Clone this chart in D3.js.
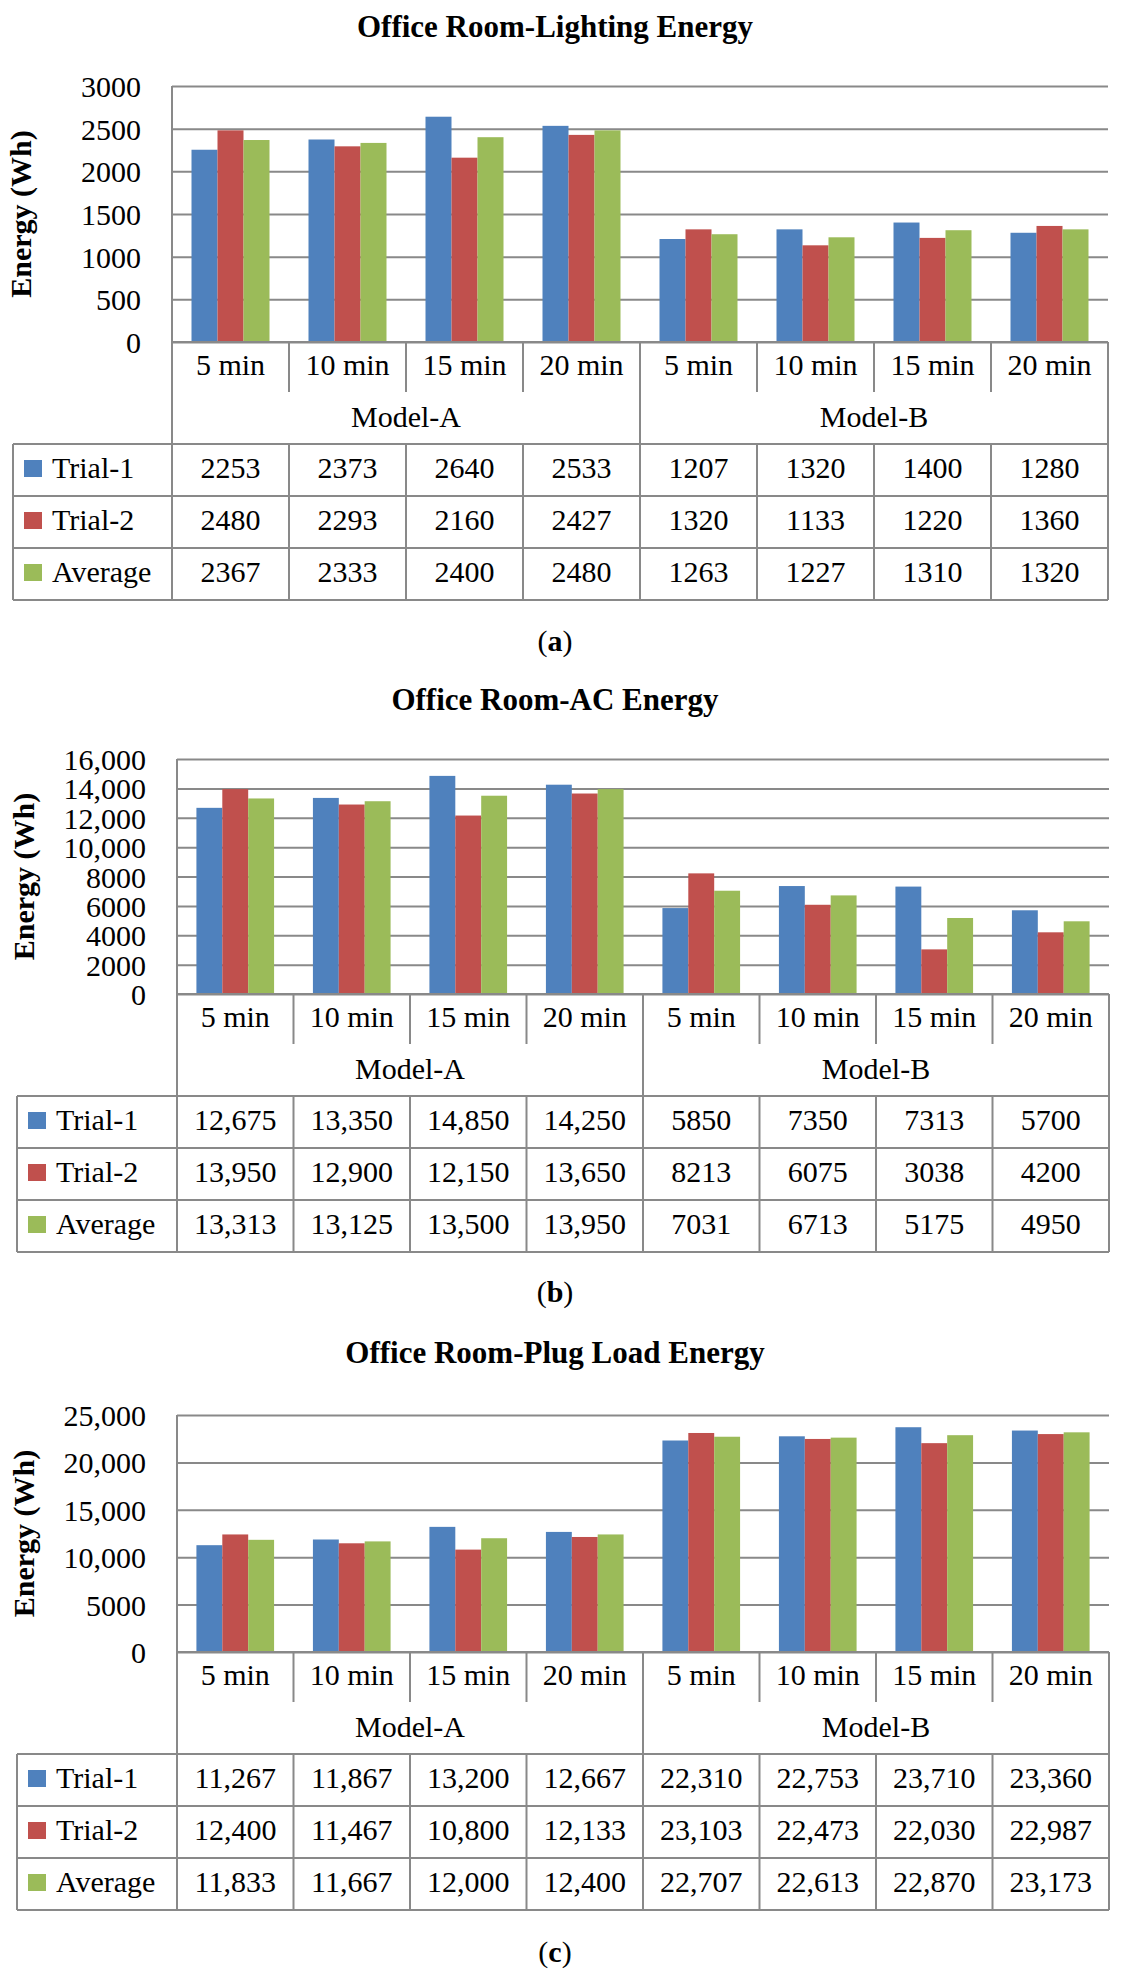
<!DOCTYPE html>
<html lang="en">
<head>
  <meta charset="UTF-8">
  <title>Office Room Energy</title>
  <style>
    body { margin: 0; background: #fff; }
    svg text { font-family: "Liberation Serif", serif; fill: #000; }
  </style>
</head>
<body>
  <svg id="chart" width="1125" height="1982"></svg>

  <script src="https://d3js.org/d3.v7.min.js"></script>
  <script>
    // categories
    const periods = ["5 min", "10 min", "15 min", "20 min"];
    const models = ["Model-A", "Model-B"];
    const seriesNames = ["Trial-1", "Trial-2", "Average"];
    const seriesColors = ["#4F81BD", "#C0504D", "#9BBB59"];

    // (a) lighting
    const lightingTrial1 = [2253, 2373, 2640, 2533, 1207, 1320, 1400, 1280];
    const lightingTrial2 = [2480, 2293, 2160, 2427, 1320, 1133, 1220, 1360];
    const lightingAverage = [2367, 2333, 2400, 2480, 1263, 1227, 1310, 1320];
    const lightingTicks = [0, 500, 1000, 1500, 2000, 2500, 3000];

    // (b) AC
    const acTrial1 = [12675, 13350, 14850, 14250, 5850, 7350, 7313, 5700];
    const acTrial2 = [13950, 12900, 12150, 13650, 8213, 6075, 3038, 4200];
    const acAverage = [13313, 13125, 13500, 13950, 7031, 6713, 5175, 4950];
    const acTicks = [0, 2000, 4000, 6000, 8000, 10000, 12000, 14000, 16000];

    // (c) plug load
    const plugTrial1 = [11267, 11867, 13200, 12667, 22310, 22753, 23710, 23360];
    const plugTrial2 = [12400, 11467, 10800, 12133, 23103, 22473, 22030, 22987];
    const plugAverage = [11833, 11667, 12000, 12400, 22707, 22613, 22870, 23173];
    const plugTicks = [0, 5000, 10000, 15000, 20000, 25000];

    // 4 digit numbers have no separator, 5+ digits get commas
    const fmt = v => v >= 10000 ? d3.format(",")(v) : String(v);

    const LINE = "#898989";
    const FONT = "'Liberation Serif', serif";
    const FS = 30;

    const charts = [
      { title: "Office Room-Lighting Energy", tag: "a", series: [lightingTrial1, lightingTrial2, lightingAverage], ticks: lightingTicks,
        titleY: 37, top: 86, bottom: 342, left: 172, right: 1108, labelX: 20, tableLeft: 13, captionY: 651 },
      { title: "Office Room-AC Energy", tag: "b", series: [acTrial1, acTrial2, acAverage], ticks: acTicks,
        titleY: 710, top: 759, bottom: 994, left: 177, right: 1109, labelX: 23, tableLeft: 17, captionY: 1302 },
      { title: "Office Room-Plug Load Energy", tag: "c", series: [plugTrial1, plugTrial2, plugAverage], ticks: plugTicks,
        titleY: 1363, top: 1415, bottom: 1652, left: 177, right: 1109, labelX: 23, tableLeft: 17, captionY: 1962 }
    ];

    const svg = d3.select("#chart");
    svg.append("rect").attr("width", 1125).attr("height", 1982).attr("fill", "#fff");

    function drawChart(c) {
      const g = svg.append("g").attr("font-family", FONT);
      const cats = d3.range(models.length * periods.length);

      const x = d3.scaleBand().domain(cats).range([c.left, c.right]).paddingInner(0).paddingOuter(0);
      const xs = d3.scaleBand().domain(seriesNames).range([0, x.bandwidth()]).paddingInner(0).paddingOuter(0.75);
      const y = d3.scaleLinear().domain([0, d3.max(c.ticks)]).range([c.bottom, c.top]);

      // title
      g.append("text")
        .attr("x", 555).attr("y", c.titleY)
        .attr("text-anchor", "middle")
        .attr("font-size", 31).attr("font-weight", "bold")
        .text(c.title);

      // y axis with gridlines
      const axis = g.append("g")
        .attr("transform", `translate(${c.left},0)`)
        .call(d3.axisLeft(y).tickValues(c.ticks).tickFormat(fmt)
          .tickSizeInner(-(c.right - c.left)).tickSizeOuter(0).tickPadding(31));
      axis.attr("font-family", FONT).attr("font-size", FS);
      axis.select(".domain").remove();
      axis.selectAll(".tick line").attr("stroke", LINE).attr("stroke-width", 2);
      axis.selectAll(".tick text").attr("font-size", FS).attr("font-family", FONT).attr("dy", "0.35em");

      // y label
      g.append("text")
        .attr("transform", `translate(${c.labelX},${(c.top + c.bottom) / 2}) rotate(-90)`)
        .attr("text-anchor", "middle").attr("dominant-baseline", "central")
        .attr("font-size", FS).attr("font-weight", "bold")
        .text("Energy (Wh)");

      // bars
      c.series.forEach((vals, si) => {
        g.append("g").selectAll("rect").data(vals).join("rect")
          .attr("x", (d, i) => x(i) + xs(seriesNames[si]))
          .attr("width", xs.bandwidth())
          .attr("y", d => y(d))
          .attr("height", d => y(0) - y(d))
          .attr("fill", seriesColors[si]);
      });

      // category axis / data table
      const sepBottom = c.bottom + 50;
      const modelY = c.bottom + 85;
      const tableTop = c.bottom + 102;
      const rowH = 52;
      const tableBottom = tableTop + rowH * seriesNames.length;
      const lines = g.append("g").attr("stroke", LINE).attr("stroke-width", 2).attr("fill", "none");

      const hLines = [
        [c.left, c.right, c.bottom],
        ...d3.range(seriesNames.length + 1).map(r => [c.tableLeft, c.right, tableTop + r * rowH])
      ];
      lines.selectAll(".h").data(hLines).join("line")
        .attr("x1", d => d[0]).attr("x2", d => d[1])
        .attr("y1", d => d[2]).attr("y2", d => d[2]);

      const vLines = [
        [c.left, c.top, tableBottom],
        [c.right, c.bottom, tableBottom],
        [c.tableLeft, tableTop, tableBottom],
        ...cats.slice(1).map(i => i % periods.length === 0
          ? [x(i), c.bottom, tableBottom]
          : [x(i), c.bottom, sepBottom]),
        ...cats.slice(1).filter(i => i % periods.length !== 0).map(i => [x(i), tableTop, tableBottom])
      ];
      lines.selectAll(".v").data(vLines).join("line")
        .attr("x1", d => d[0]).attr("x2", d => d[0])
        .attr("y1", d => d[1]).attr("y2", d => d[2]);

      // period labels
      g.append("g").selectAll("text").data(cats).join("text")
        .attr("x", i => x(i) + x.bandwidth() / 2)
        .attr("y", c.bottom + 33)
        .attr("text-anchor", "middle").attr("font-size", FS)
        .text(i => periods[i % periods.length]);

      // model labels
      g.append("g").selectAll("text").data(models).join("text")
        .attr("x", (m, k) => x(k * periods.length) + x.bandwidth() * periods.length / 2)
        .attr("y", modelY)
        .attr("text-anchor", "middle").attr("font-size", FS)
        .text(m => m);

      // table rows
      seriesNames.forEach((name, si) => {
        const rowTop = tableTop + si * rowH;
        g.append("rect")
          .attr("x", c.tableLeft + 11).attr("y", rowTop + 16)
          .attr("width", 18).attr("height", 17)
          .attr("fill", seriesColors[si]);
        g.append("text")
          .attr("x", c.tableLeft + 39).attr("y", rowTop + 34)
          .attr("font-size", FS)
          .text(name);
        g.append("g").selectAll("text").data(c.series[si]).join("text")
          .attr("x", (d, i) => x(i) + x.bandwidth() / 2)
          .attr("y", rowTop + 34)
          .attr("text-anchor", "middle").attr("font-size", FS)
          .text(d => fmt(d));
      });

      // caption
      const cap = g.append("text")
        .attr("x", 555).attr("y", c.captionY)
        .attr("text-anchor", "middle").attr("font-size", FS);
      cap.append("tspan").text("(");
      cap.append("tspan").attr("font-weight", "bold").text(c.tag);
      cap.append("tspan").text(")");
    }

    charts.forEach(drawChart);
  </script>
</body>
</html>
